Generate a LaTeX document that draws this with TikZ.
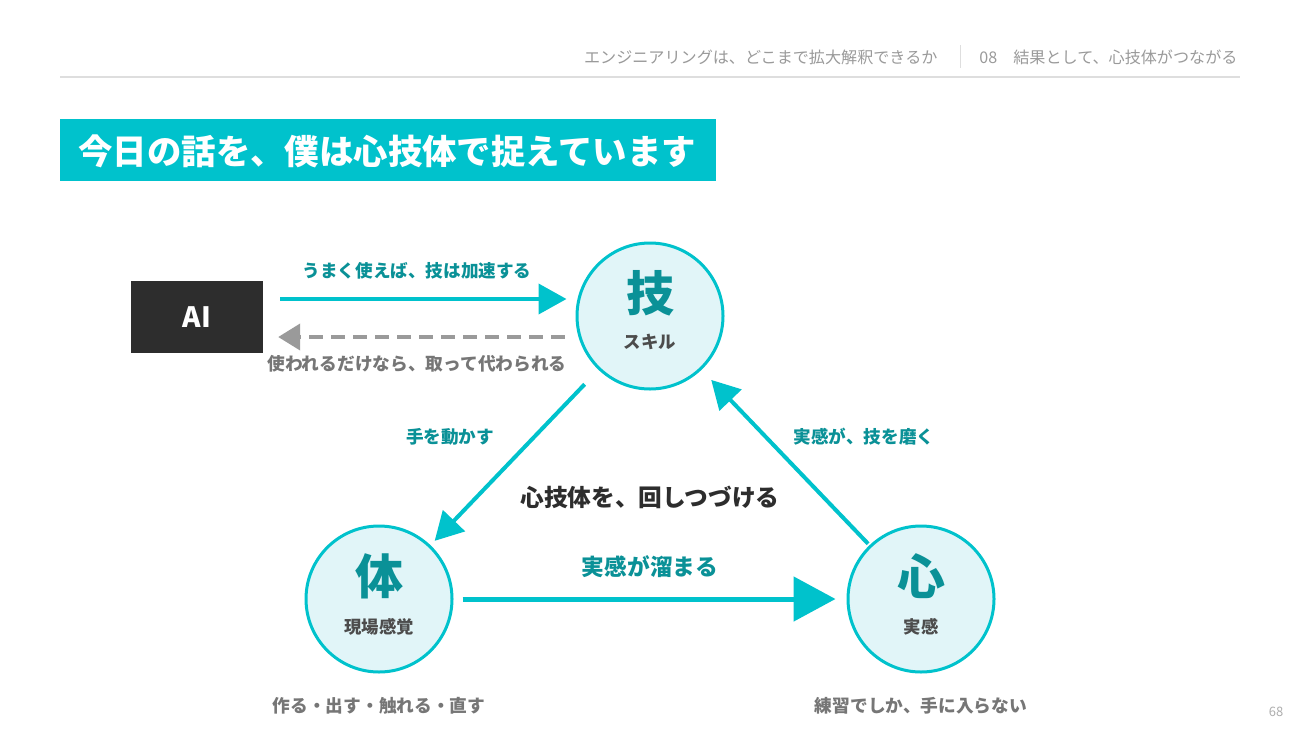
\documentclass[tikz,border=0pt]{standalone}
\usepackage{fontspec}
\setmainfont{Noto Sans CJK JP}
\usepackage{tikz}
\usetikzlibrary{arrows.meta}

\definecolor{cyanmain}{HTML}{00C2CC}
\definecolor{cyanlight}{HTML}{E1F5F8}
\definecolor{tealtext}{HTML}{0A9197}
\definecolor{darktext}{HTML}{2D2D2D}
\definecolor{graytext}{HTML}{767676}
\definecolor{headgray}{HTML}{9A9A9A}
\definecolor{rulegray}{HTML}{DEDEDE}

\begin{document}
\begin{tikzpicture}%
        [x=1pt, y=-1pt,
        circ/.style={circle, draw=cyanmain, fill=cyanlight, line width=3pt, minimum size=146pt, inner sep=0pt},
        bigchar/.style={font=\fontsize{48}{52}\selectfont\bfseries, text=tealtext},
        subtxt/.style={font=\fontsize{17.4}{20}\selectfont\bfseries, text=darktext!85},
        flowlbl/.style={font=\fontsize{17.6}{21}\selectfont\bfseries, text=tealtext},
        notelbl/.style={font=\fontsize{17.7}{21}\selectfont\bfseries, text=graytext},
        headtxt/.style={font=\fontsize{16.1}{19}\selectfont, text=headgray},
        flow/.style={draw=cyanmain, line width=4pt, -{Triangle[length=28pt,width=30pt]}},
        back/.style={draw=headgray, line width=4pt, dash pattern=on 14pt off 8pt, -{Triangle[length=22pt,width=26pt]}}]
    %
    %% Page frame
    \useasboundingbox (0,0) rectangle (1300,731);
    \fill[white] (0,0) rectangle (1300,731);
    %
    %% Header
    \node[headtxt, anchor=east] (headL) at (941,57) {エンジニアリングは、どこまで拡大解釈できるか};
    \node[headtxt, anchor=east] (headR) at (1241,57) {08\quad 結果として、心技体がつながる};
    \draw[rulegray, line width=1pt] (960,45) -- (960,68);
    \draw[rulegray, line width=1.5pt] (60,77) -- (1240,77);
    %
    %% Title
    \node[fill=cyanmain, anchor=north west, minimum width=656pt, minimum height=62pt, inner sep=0pt] (titlebox) at (60,119) {};
    \node[anchor=west, text=white, font=\fontsize{34.4}{40}\selectfont\bfseries] (title) at (75,151) {今日の話を、僕は心技体で捉えています};
    %
    %% AI box
    \node[fill=darktext, minimum width=132pt, minimum height=72pt, inner sep=0pt, text=white, font=\fontsize{28}{32}\selectfont\bfseries] (ai) at (197,317) {AI};
    %
    %% The three circles
    \node[circ] (waza) at (650,316) {};
    \node[circ] (tai) at (379,599) {};
    \node[circ] (kokoro) at (921,599) {};
    \node[bigchar] (wazaT) at (650,293) {技};
    \node[subtxt] (wazaS) at (650,342) {スキル};
    \node[bigchar] (taiT) at (379,576) {体};
    \node[subtxt] (taiS) at (379,627) {現場感覚};
    \node[bigchar] (kokoroT) at (921,576) {心};
    \node[subtxt] (kokoroS) at (921,627) {実感};
    %
    %% AI <-> skill
    \draw[flow, shorten <=17pt, shorten >=9pt] ([yshift=18pt]ai.east) -- ([yshift=17pt]waza.west);
    \draw[back, shorten <=11pt, shorten >=15pt] ([yshift=-21pt]waza.west) -- ([yshift=-20pt]ai.east);
    \node[flowlbl] (aiUp) at (417,271) {うまく使えば、技は加速する};
    \node[notelbl] (aiDown) at (417,364) {使われるだけなら、取って代わられる};
    %
    %% The cycle
    \draw[flow, shorten <=20pt, shorten >=6pt] (waza) -- (tai);
    \draw[flow, line width=5pt, -{Triangle[length=42pt,width=44pt]}, shorten <=9pt, shorten >=11pt] (tai) -- (kokoro);
    \draw[flow, shorten <=2pt, shorten >=14pt] (kokoro) -- (waza);
    \node[flowlbl] (toTai) at (450,437) {手を動かす};
    \node[flowlbl] (toWaza) at (864,437) {実感が、技を磨く};
    \node[flowlbl, font=\fontsize{22.7}{26}\selectfont\bfseries] (toKokoro) at (650,567) {実感が溜まる};
    \node[font=\fontsize{23.7}{28}\selectfont\bfseries, text=darktext] (cycle) at (650,497) {心技体を、回しつづける};
    %
    %% Notes under the circles
    \node[notelbl] (taiNote) at (379,706) {作る・出す・触れる・直す};
    \node[notelbl] (kokoroNote) at (921,706) {練習でしか、手に入らない};
    %
    %% Page number
    \node[font=\fontsize{13}{15}\selectfont, text=headgray!80] (page) at (1276,712) {68};
    %
\end{tikzpicture}
\end{document}
